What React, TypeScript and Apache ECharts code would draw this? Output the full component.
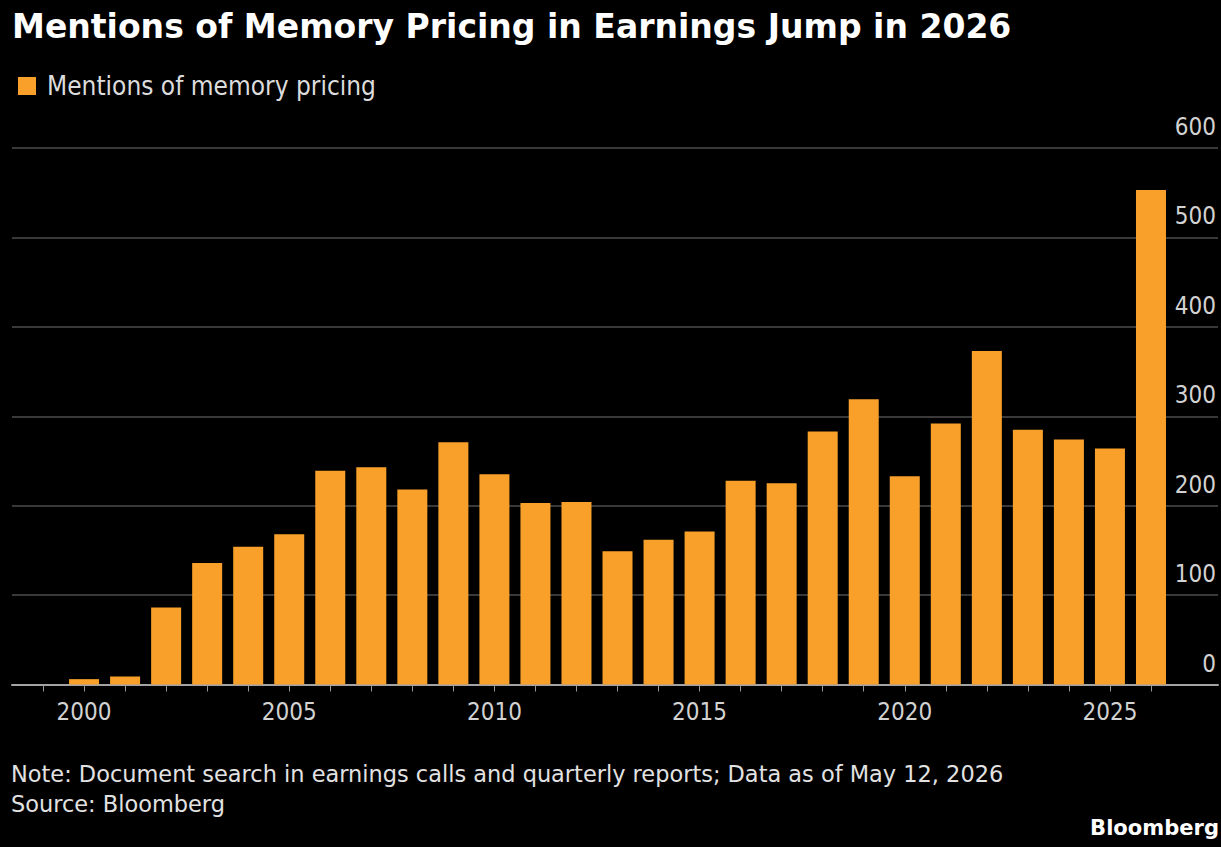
import React, { useEffect, useRef } from "react";
import * as echarts from "echarts";

// ---- data ----
const categories = [
  "1999", "2000", "2001", "2002", "2003", "2004", "2005", "2006", "2007", "2008",
  "2009", "2010", "2011", "2012", "2013", "2014", "2015", "2016", "2017", "2018",
  "2019", "2020", "2021", "2022", "2023", "2024", "2025", "2026",
];
const mentions = [
  null, 6, 9, 86, 136, 154, 168, 239, 243, 218,
  271, 235, 203, 204, 149, 162, 171, 228, 225, 283,
  319, 233, 292, 373, 285, 274, 264, 553,
];
const xLabelYears = ["2000", "2005", "2010", "2015", "2020", "2025"];
const yMin = 0;
const yMax = 600;
const yStep = 100;

const seriesName = "Mentions of memory pricing";
const titleText = "Mentions of Memory Pricing in Earnings Jump in 2026";
const noteText =
  "Note: Document search in earnings calls and quarterly reports; Data as of May 12, 2026";
const sourceText = "Source: Bloomberg";
const brandText = "Bloomberg";

const ORANGE = "#f8a02a";
const AXIS_FONT = '"DejaVu Sans Condensed", Roboto, "DejaVu Sans", sans-serif';

function measure(text: string, font: string): number {
  const c = document.createElement("canvas").getContext("2d");
  if (!c) return 1;
  c.font = font;
  return c.measureText(text).width || 1;
}

export default function App() {
  const ref = useRef<HTMLDivElement>(null);

  useEffect(() => {
    if (!ref.current) return;
    const chart = echarts.init(ref.current, null, { renderer: "svg" });

    const titleFont = 'bold 34px "DejaVu Sans"';
    const noteFont = '23px "DejaVu Sans"';
    const brandFont = 'bold 21px "DejaVu Sans"';
    const sTitle = 1000 / measure(titleText, titleFont);
    const sNote = 993 / measure(noteText, noteFont);
    const sBrand = 129 / measure(brandText, brandFont);

    const textEl = (
      text: string,
      x: number,
      y: number,
      scaleX: number,
      font: string,
      fill: string,
      align: string
    ) => ({
      type: "text",
      x,
      y,
      scaleX,
      silent: true,
      style: {
        text,
        x: 0,
        y: 0,
        font,
        fill,
        align,
        verticalAlign: "middle",
        textAlign: align,
        textVerticalAlign: "middle",
      },
    });

    const option: any = {
      animation: false,
      backgroundColor: "#000000",
      legend: {
        data: [seriesName],
        left: 13,
        top: 68,
        icon: "rect",
        itemWidth: 18,
        itemHeight: 18,
        selectedMode: false,
        textStyle: {
          color: "#dcdcdc",
          fontSize: 26,
          fontFamily: AXIS_FONT,
          padding: [0, 0, 0, 6],
        },
      },
      graphic: [
        textEl(titleText, 12, 26, sTitle, titleFont, "#ffffff", "left"),
        textEl(noteText, 11, 773.5, sNote, noteFont, "#e2e2e2", "left"),
        textEl(sourceText, 11, 803.5, sNote, noteFont, "#e2e2e2", "left"),
        textEl(brandText, 1219, 827.5, sBrand, brandFont, "#ffffff", "right"),
      ],
      grid: [
        { left: 12, right: 3, top: 148, bottom: 162.5, containLabel: false },
        { left: 22.5, right: 49.5, top: 148, bottom: 162.5, containLabel: false },
      ],
      xAxis: [
        {
          type: "value",
          gridIndex: 0,
          min: 0,
          max: 1,
          axisLine: { show: true, lineStyle: { color: "#a3a3a3", width: 2 } },
          axisTick: { show: false },
          axisLabel: { show: false },
          splitLine: { show: false },
        },
        {
          type: "category",
          gridIndex: 1,
          data: categories,
          axisLine: { show: false },
          axisTick: {
            show: true,
            alignWithLabel: true,
            interval: 0,
            length: 7,
            lineStyle: { color: "#9a9a9a", width: 1 },
          },
          axisLabel: {
            interval: (_i: number, v: string) => xLabelYears.includes(v),
            color: "#d2d2d2",
            fontSize: 24,
            fontFamily: AXIS_FONT,
            margin: 15,
          },
        },
      ],
      yAxis: [
        {
          type: "value",
          gridIndex: 0,
          position: "right",
          min: yMin,
          max: yMax,
          interval: yStep,
          axisLine: { show: false },
          axisTick: { show: false },
          splitLine: { show: true, lineStyle: { color: "#4d4d4d", width: 1.5 } },
          axisLabel: {
            inside: true,
            margin: 2,
            color: "#d2d2d2",
            fontSize: 24,
            fontFamily: AXIS_FONT,
            verticalAlign: "bottom",
            lineHeight: 24,
            padding: [0, 0, 9, 0],
          },
        },
        {
          type: "value",
          gridIndex: 1,
          min: yMin,
          max: yMax,
          interval: yStep,
          show: false,
        },
      ],
      series: [
        {
          name: seriesName,
          type: "bar",
          xAxisIndex: 1,
          yAxisIndex: 1,
          data: mentions,
          barWidth: 30,
          itemStyle: { color: ORANGE },
        },
      ],
    };

    chart.setOption(option);
    return () => chart.dispose();
  }, []);

  return (
    <div
      ref={ref}
      style={{ position: "absolute", left: 0, top: 0, width: 1221, height: 847 }}
    />
  );
}
